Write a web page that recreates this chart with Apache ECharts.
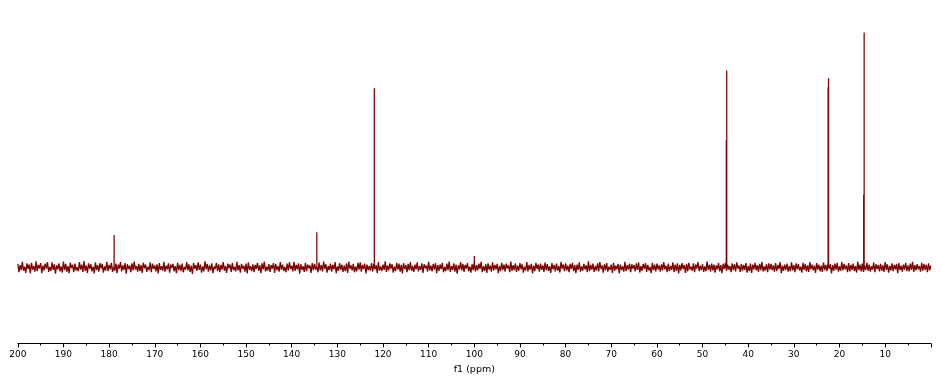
<!DOCTYPE html>
<html>
<head>
<meta charset="utf-8">
<script src="https://cdn.jsdelivr.net/npm/echarts@6/dist/echarts.min.js"></script>
<style>
html,body{margin:0;padding:0;background:#fff;}
#chart{width:943px;height:382px;}
</style>
</head>
<body>
<div id="chart"></div>
<script>
// Spectrum sampling (ppm), noise intensities
const ppmStart = 200;
const ppmStep = 0.25;
const noise = [
1.2,-1.6,0.8,-0.9,1.9,-1.1,0.3,-1.8,1.4,-0.5,1.0,-2.0,1.6,-0.7,0.5,-1.4,2.1,-1.2,0.9,-0.3,
1.5,-1.9,0.6,-1.0,1.3,-0.4,1.8,-1.5,0.2,-1.1,1.7,-0.8,1.1,-2.1,0.7,-0.6,1.4,-1.3,0.4,-1.7,
2.0,-0.9,1.2,-1.4,0.5,-1.9,1.6,-0.2,0.9,-1.6,1.3,-1.0,0.1,-1.2,1.8,-0.7,1.0,-1.5,2.2,-1.1,
0.6,-1.8,1.4,-0.5,1.1,-1.3,0.3,-2.0,1.7,-0.9,0.8,-1.4,1.5,-0.3,1.2,-1.7,0.4,-1.0,1.9,-1.2,
0.9,-0.6,1.6,-1.5,0.2,-1.1,1.3,-1.9,1.0,-0.4,1.8,-1.3,0.7,-0.8,1.5,-2.1,1.1,-0.5,0.6,-1.6,
1.4,-1.0,2.0,-0.7,0.5,-1.4,1.2,-1.2,0.8,-1.8,1.6,-0.3,1.0,-1.5,0.3,-0.9,1.7,-1.6,1.3,-0.5,
0.7,-1.3,1.1,-2.0,1.5,-0.8,0.4,-1.1,1.9,-1.4,0.6,-0.6,1.4,-1.7,1.0,-0.2,1.2,-1.3,0.5,-1.9,
1.6,-0.9,0.9,-1.2,1.3,-1.6,0.2,-0.7,1.8,-1.0,1.1,-1.5,0.6,-2.2,1.5,-0.4,0.8,-1.1,1.7,-0.8,
1.0,-1.7,0.4,-1.3,2.1,-0.6,1.2,-1.4,0.7,-1.0,1.4,-1.9,0.3,-0.5,1.6,-1.2,1.1,-1.6,0.9,-0.7,
1.8,-1.1,0.5,-1.8,1.3,-0.3,1.0,-1.5,1.5,-0.9,0.2,-1.3,1.9,-1.0,0.8,-1.7,1.2,-0.4,0.6,-1.4,
1.3,-2.0,1.7,-0.8,0.4,-1.2,1.1,-1.6,0.9,-0.5,1.6,-1.1,0.7,-1.9,1.4,-0.6,2.0,-1.3,0.3,-1.0,
1.1,-1.5,0.8,-0.4,1.5,-1.8,1.2,-0.9,0.5,-1.4,1.8,-0.7,1.0,-1.2,0.2,-1.6,1.3,-1.0,1.7,-0.5,
0.6,-1.3,1.9,-1.1,0.9,-0.6,1.4,-2.1,1.1,-0.8,0.4,-1.5,1.6,-1.2,1.0,-0.3,0.7,-1.8,1.5,-0.9,
1.2,-0.7,0.3,-1.6,1.7,-1.0,0.8,-1.3,2.0,-0.5,1.1,-1.7,0.5,-0.9,1.3,-1.4,0.9,-0.6,1.8,-1.9,
0.4,-1.1,1.5,-0.8,1.0,-1.5,0.6,-1.2,1.4,-1.8,1.9,-0.4,0.7,-1.0,1.2,-1.6,0.3,-1.3,1.6,-0.7,
1.7,-1.4,0.9,-0.5,1.3,-2.0,1.0,-0.9,0.5,-1.1,1.5,-1.3,1.2,-0.6,0.8,-1.9,1.8,-1.0,0.4,-1.2,
1.0,-0.8,2.1,-1.5,0.6,-1.0,1.4,-0.4,1.1,-1.7,0.3,-1.2,1.6,-0.7,1.3,-1.4,0.9,-2.0,1.5,-0.5,
0.8,-1.6,1.2,-0.9,1.8,-1.1,0.5,-1.5,1.0,-0.6,1.7,-1.3,0.4,-0.8,1.4,-1.8,1.1,-0.3,0.7,-1.4,
1.9,-1.0,0.6,-1.3,1.2,-0.7,1.5,-1.9,0.8,-1.1,1.0,-0.5,1.6,-1.6,0.2,-1.2,1.3,-0.9,2.0,-1.5,
0.5,-0.8,1.4,-1.4,1.0,-2.1,0.7,-0.6,1.8,-1.0,1.2,-1.5,0.9,-0.4,1.5,-1.2,0.3,-1.7,1.1,-0.9,
1.6,-1.3,0.8,-1.0,1.3,-0.5,1.9,-1.6,0.4,-1.1,1.1,-1.8,1.4,-0.7,0.6,-1.4,1.7,-1.0,0.9,-0.6,
1.2,-1.9,0.5,-1.2,1.6,-0.8,1.0,-1.4,1.3,-0.3,0.7,-1.6,2.0,-1.1,0.8,-0.9,1.4,-1.5,0.6,-1.1,
1.5,-0.6,1.1,-1.7,0.3,-1.0,1.8,-1.3,0.9,-0.7,1.2,-2.0,0.6,-1.2,1.6,-0.5,1.0,-1.4,1.3,-0.8,
0.7,-1.5,1.7,-0.9,1.1,-1.1,0.4,-1.8,1.5,-0.6,0.9,-1.3,1.3,-1.0,0.5,-1.7,1.9,-0.4,1.0,-1.2,
1.4,-1.0,0.6,-1.6,1.2,-0.5,1.6,-1.2,0.8,-1.9,1.0,-0.8,1.7,-1.4,0.4,-1.1,1.2,-0.6,0.7,-1.6,
2.1,-1.2,0.9,-0.7,1.3,-1.5,0.5,-1.0,1.4,-1.3,1.8,-0.5,0.7,-1.7,1.1,-0.9,1.5,-1.4,0.3,-0.8,
1.0,-1.8,1.6,-1.1,0.6,-0.6,1.2,-2.0,1.0,-0.9,0.4,-1.4,1.9,-1.2,0.8,-0.7,1.3,-1.6,1.1,-0.4,
0.8,-1.3,1.4,-0.8,1.7,-1.7,0.5,-1.1,1.2,-0.5,1.5,-1.5,0.9,-1.0,0.2,-1.9,1.6,-0.9,1.0,-1.3,
1.3,-0.7,0.7,-1.4,1.1,-1.0,1.8,-0.6,0.6,-1.6,1.3,-1.2,0.5,-0.8,1.7,-1.5,1.0,-1.1,1.4,-2.0,
0.9,-1.0,1.5,-0.5,0.8,-1.8,1.2,-1.3,1.6,-0.7,0.3,-1.1,1.4,-1.6,1.0,-0.4,1.8,-1.2,0.6,-0.9,
1.1,-1.5,0.4,-1.2,2.0,-0.8,0.9,-1.4,1.3,-1.0,1.0,-1.7,0.7,-0.6,1.5,-1.3,0.8,-1.9,1.2,-0.5,
1.6,-1.1,1.0,-0.7,0.5,-1.6,1.4,-0.9,1.1,-1.3,1.7,-0.4,0.6,-1.5,1.2,-1.1,0.9,-0.8,1.5,-1.7,
0.5,-1.2,1.3,-1.8,1.0,-0.6,1.6,-1.0,0.8,-1.5,1.2,-0.9,1.9,-1.3,0.4,-1.0,1.1,-1.6,1.4,-0.7,
1.2,-0.9,0.7,-1.4,1.5,-1.2,0.9,-0.5,1.8,-1.9,0.6,-1.1,1.0,-0.8,1.3,-1.4,0.5,-1.2,1.7,-1.0,
0.8,-1.6,1.4,-0.6,1.1,-1.0,0.3,-1.7,1.6,-0.8,1.2,-1.3,0.7,-1.5,1.8,-0.6,1.0,-1.0,0.6,-1.8,
1.5,-0.7,1.0,-1.3,0.6,-1.5,1.7,-0.9,0.9,-1.2,1.4,-0.5,1.1,-2.0,0.8,-1.1,1.3,-0.7,1.6,-1.4,
0.4,-1.1,1.8,-1.0,1.2,-0.6,0.7,-1.6,1.5,-1.3,0.9,-0.8,1.3,-1.2,0.5,-1.7,2.0,-0.9,1.0,-1.3,
1.3,-1.5,0.6,-0.9,1.6,-1.1,1.0,-1.4,0.4,-0.7,1.7,-1.6,1.1,-0.5,0.8,-1.3,1.2,-1.1,0.7,-1.5,
1.8,-0.8,1.1,-1.7,0.5,-1.0,1.4,-1.2,0.9,-0.6,1.2,-1.9,1.5,-0.9,0.6,-1.4,1.0,-0.7,1.6,-1.2,
0.7,-1.3,1.3,-0.8,1.9,-1.5,0.8,-1.0,1.1,-0.6,0.5,-1.4,1.6,-1.1,1.2,-0.8,0.9,-1.6,1.4,-1.0,
0.6
];
// Peak positions (ppm) and heights, descending ppm
const peakPpm    = [178.9, 134.5, 121.9, 100.0, 44.8, 44.7, 22.5, 22.4, 14.7, 14.6];
const peakHeight = [13.7,  14.8,  75.5,  4.8,   53.7, 82.9, 76.0, 79.7, 30.5, 99.0];
// Axis tick labels
const tickValues = [10,20,30,40,50,60,70,80,90,100,110,120,130,140,150,160,170,180,190,200];
const axisTitle = 'f1 (ppm)';

const noiseData = noise.map((v, i) => [ppmStart - i * ppmStep, v]);
const peakData = [];
for (let k = 0; k < peakPpm.length; k++) {
  peakData.push([peakPpm[k], 0]);
  peakData.push([peakPpm[k], peakHeight[k]]);
  peakData.push([peakPpm[k], '-']);
}

const chart = echarts.init(document.getElementById('chart'), null, {renderer: 'canvas'});
chart.setOption({
  animation: false,
  backgroundColor: '#ffffff',
  grid: {left: 17.8, right: 12.2, top: 30, bottom: 38.5, outerBoundsMode: 'none', containLabel: false},
  xAxis: {
    type: 'value',
    inverse: true,
    min: 0,
    max: 200,
    interval: 10,
    name: axisTitle,
    nameLocation: 'middle',
    nameGap: 20,
    nameTextStyle: {fontFamily: 'DejaVu Sans', fontSize: 9.5, color: '#000'},
    axisLine: {show: true, onZero: false, lineStyle: {color: '#000', width: 1}},
    axisTick: {show: true, length: 4, lineStyle: {color: '#000'}},
    minorTick: {show: true, splitNumber: 2, length: 2, lineStyle: {color: '#000'}},
    splitLine: {show: false},
    axisLabel: {
      showMinLabel: false,
      margin: 7,
      fontFamily: 'DejaVu Sans',
      fontSize: 9,
      color: '#000',
      formatter: function (v) { return tickValues.indexOf(v) >= 0 ? String(v) : ''; }
    }
  },
  yAxis: [
    {type: 'value', min: -32, max: 100, show: false},
    {type: 'value', min: -25.6, max: 80, show: false}
  ],
  series: [{
    type: 'line',
    yAxisIndex: 1,
    data: noiseData,
    showSymbol: false,
    symbol: 'none',
    lineStyle: {color: '#7a0000', width: 1.3, join: 'bevel'},
    silent: true
  }, {
    type: 'line',
    yAxisIndex: 0,
    data: peakData,
    connectNulls: false,
    showSymbol: false,
    symbol: 'none',
    lineStyle: {color: '#7a0000', width: 1.25},
    silent: true
  }]
});
</script>
</body>
</html>
